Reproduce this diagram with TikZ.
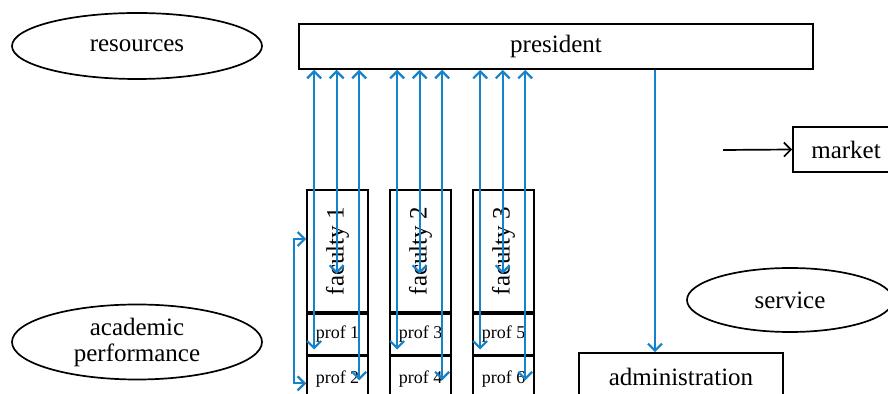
\documentclass[tikz,border=0pt]{standalone}
\usepackage{fontspec}
\setmainfont{Liberation Serif}
\usepackage{tikz}
\usetikzlibrary{calc}
\usetikzlibrary{shapes.geometric}
\usetikzlibrary{arrows.meta}
\usepackage{xcolor}
\definecolor{linkblue}{RGB}{22,130,202}

\begin{document}
\begin{tikzpicture}[x=0.5pt,y=-0.5pt]
    \tikzstyle{box}=[draw,line width=0.85pt,rectangle,inner sep=0pt,font=\fontsize{12.5}{13}\selectfont]
    \tikzstyle{oval}=[draw,line width=0.85pt,ellipse,inner sep=0pt,align=center,font=\fontsize{12.5}{13}\selectfont]
    \tikzstyle{profbox}=[box,minimum width=30.5pt,font=\fontsize{9}{10}\selectfont]
    \tikzstyle{link}=[draw=linkblue,line width=1.1pt,>={Straight Barb[length=3.5pt,width=7pt]}]
    \useasboundingbox (0,0) rectangle (888,394);
    \clip (0,0) rectangle (888,394);
    \node[oval,minimum width=125pt,minimum height=33pt] (res) at (137,46) {resources};
    \node[oval,minimum width=125pt,minimum height=37.5pt] (acad) at (137,342) {academic\\performance};
    \node[oval,minimum width=103pt,minimum height=32pt] (serv) at (790,300) {service};
    \node[box,minimum width=257pt,minimum height=22.5pt] (pres) at (556,46.5) {\raisebox{-2pt}{president}};
    \node[box,minimum width=53pt,minimum height=22.5pt] (mkt) at (846,149.5) {market};
    \node[box,minimum width=102pt,minimum height=24pt] (admin) at (681,377) {administration};
    \coordinate (mktin) at (723,150);
    \foreach \f/\x/\p/\q in {1/337.5/1/2,2/420.5/3/4,3/503.5/5/6}{
        \node[box,minimum width=30.5pt,minimum height=61pt] (fac\f) at (\x,251) {\rotatebox{90}{faculty \f}};
        \node[profbox,minimum height=20.5pt,anchor=north] (prof\p) at (fac\f.south) {prof \p};
        \node[profbox,minimum height=23pt,anchor=north] (prof\q) at (prof\p.south) {prof \q};
    }
    \foreach \f/\p/\q in {1/1/2,2/3/4,3/5/6}{
        \draw[link,<->] ($(pres.south -| fac\f.west)+(8,0)$) -- ($(prof\p.south west)+(8,-6)$);
        \draw[link,<->] ($(pres.south -| fac\f.west)+(30.5,0)$) -- ($(fac\f.south west)+(30.5,-39)$);
        \draw[link,<->] ($(pres.south -| fac\f.west)+(53,0)$) -- ($(prof\q.west)+(53,1)$);
    }
    \draw[link,<->] ($(fac1.west)+(0,-12)$) -- ++(-12,0) |- ($(prof2.west)+(0,4)$);
    \draw[link,->] ($(pres.south -| admin.north)+(-26,0)$) -- ($(admin.north)+(-26,0)$);
    \draw[line width=0.85pt,-{Straight Barb[length=3.5pt,width=7pt]}] (mktin) -- (mkt.west);
\end{tikzpicture}
\end{document}
